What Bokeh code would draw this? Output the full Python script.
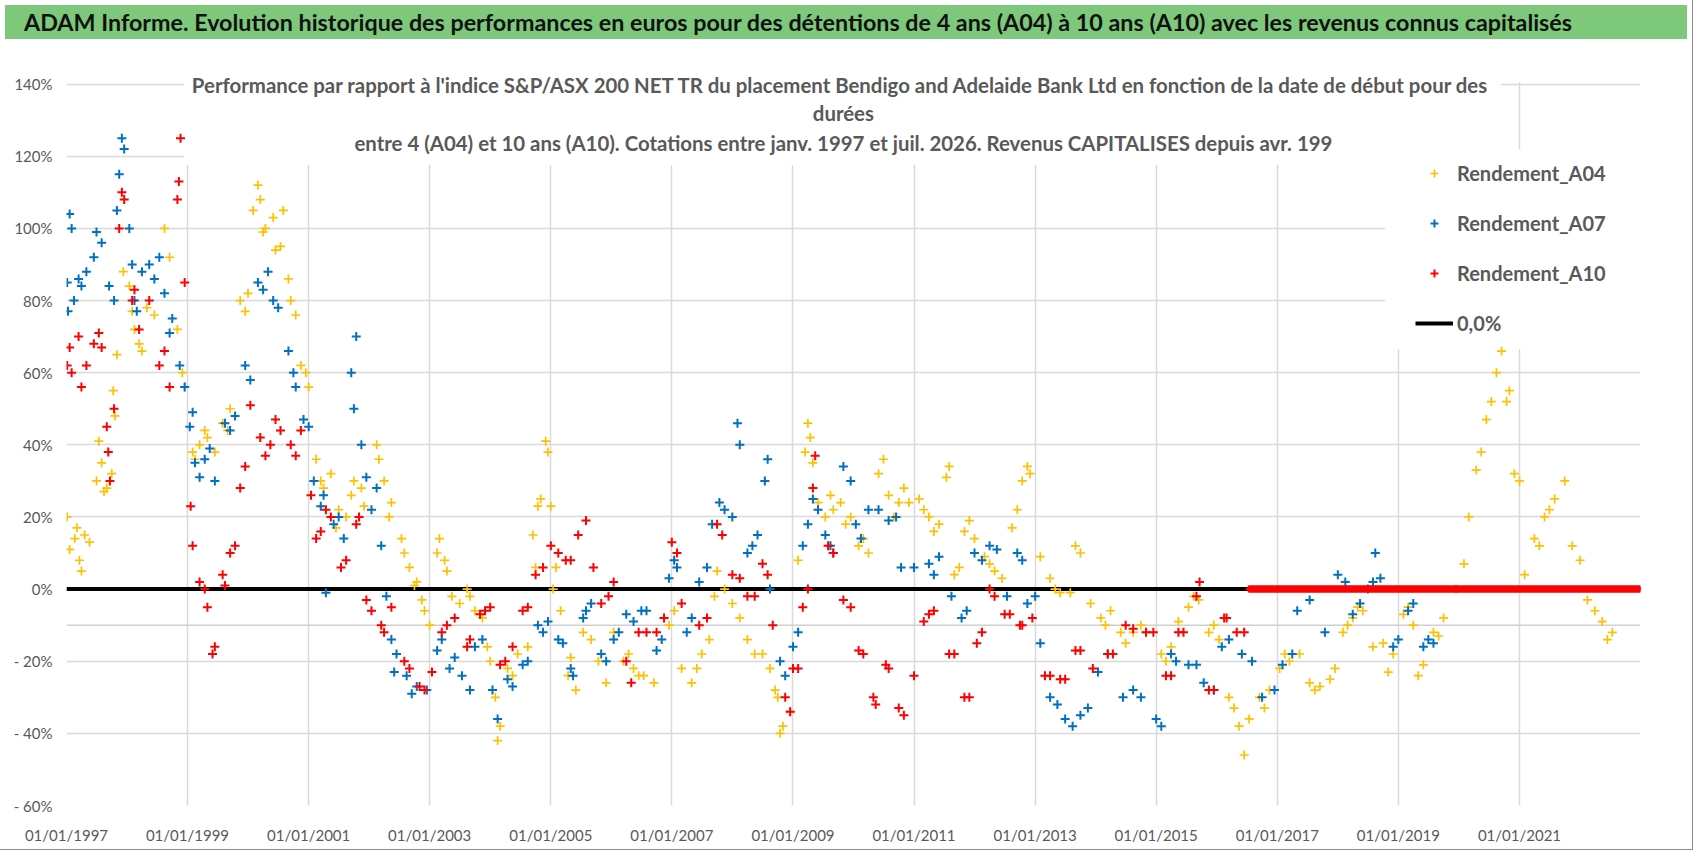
import pandas as pd
from bokeh.plotting import figure
from bokeh.models import (Range1d, FixedTicker, DatetimeTickFormatter, Label, BoxAnnotation,
                          Span, Legend, LegendItem, Div)
from bokeh.layouts import column
from bokeh.embed import file_html
from bokeh.resources import INLINE

# Performance relative to the index (%): (date, value)
a04 = [
    ("1997-01-05", 20), ("1997-01-20", 11), ("1997-02-20", 14), ("1997-03-20", 8), ("1997-04-20", 15),
    ("1997-05-20", 13), ("1997-07-01", 30), ("1997-08-01", 35), ("1997-09-01", 28), ("1997-10-01", 32),
    ("1997-10-20", 48), ("1997-11-01", 65), ("1997-12-10", 88), ("1998-01-15", 84), ("1998-02-15", 72),
    ("1998-03-15", 68), ("1998-05-01", 78), ("1998-06-15", 76), ("1998-08-15", 100), ("1998-09-15", 92),
    ("1998-11-01", 72), ("1998-12-01", 60), ("1999-02-01", 38), ("1999-03-15", 40), ("1999-05-01", 42),
    ("1999-06-15", 38), ("1999-08-01", 46), ("1999-09-15", 50), ("1999-11-15", 80), ("2000-01-01", 82),
    ("2000-02-01", 105), ("2000-03-01", 112), ("2000-04-15", 100), ("2000-06-01", 103), ("2000-07-15", 95),
    ("2000-09-01", 86), ("2000-10-15", 76), ("2000-11-15", 62), ("2001-01-01", 56), ("2001-02-15", 36),
    ("2001-04-01", 28), ("2001-05-15", 32), ("2001-07-01", 22), ("2001-08-15", 20), ("2001-10-01", 30),
    ("2001-11-15", 28), ("2002-02-15", 40), ("2002-04-01", 30), ("2002-05-15", 24), ("2002-07-15", 14),
    ("2002-09-01", 6), ("2002-10-15", 2), ("2002-12-01", -6), ("2003-01-01", -10), ("2003-02-15", 10),
    ("2003-04-01", 8), ("2003-05-15", -2), ("2003-07-01", -4), ("2003-08-15", 0), ("2003-10-01", -6),
    ("2003-11-15", -8), ("2004-01-01", -20), ("2004-02-01", -30), ("2004-03-01", -38), ("2004-04-15", -22),
    ("2004-06-15", -18), ("2004-08-15", -16), ("2004-09-15", 15), ("2004-11-01", 25), ("2004-12-15", 38),
    ("2005-01-15", 0), ("2005-03-01", -6), ("2005-04-15", -24), ("2005-06-01", -28), ("2005-07-15", -12),
    ("2005-09-01", -14), ("2005-10-15", -20), ("2005-12-01", -26), ("2006-01-15", -12), ("2006-03-15", -20),
    ("2006-05-15", -22), ("2006-07-15", -24), ("2006-09-15", -26), ("2006-11-15", -8), ("2007-01-15", -6),
    ("2007-03-01", -22), ("2007-05-01", -26), ("2007-07-01", -18), ("2007-08-15", -14), ("2007-10-01", 5),
    ("2007-11-15", 0), ("2008-01-01", -4), ("2008-02-15", -8), ("2008-04-01", -14), ("2008-05-15", -18),
    ("2008-07-01", -18), ("2008-08-15", -22), ("2008-10-01", -30), ("2008-11-01", -38), ("2008-12-15", -34),
    ("2009-02-01", 8), ("2009-03-15", 38), ("2009-04-15", 42), ("2009-06-01", 24), ("2009-07-15", 20),
    ("2009-09-01", 22), ("2009-10-15", 24), ("2009-12-15", 20), ("2010-02-01", 12), ("2010-04-01", 10),
    ("2010-06-01", 32), ("2010-08-01", 26), ("2010-10-01", 24), ("2010-12-01", 24), ("2011-02-01", 25),
    ("2011-04-01", 20), ("2011-06-01", 18), ("2011-07-15", 31), ("2011-09-01", 4), ("2011-11-01", 16),
    ("2012-01-01", 14), ("2012-03-01", 9), ("2012-05-01", 5), ("2012-06-15", 3), ("2012-08-15", 17),
    ("2012-10-15", 30), ("2012-12-01", 32), ("2013-02-01", 9), ("2013-04-01", 3), ("2013-06-01", -1),
    ("2013-08-01", -1), ("2013-10-01", 10), ("2013-12-01", -4), ("2014-02-01", -8), ("2014-04-01", -6),
    ("2014-06-01", -12), ("2014-08-15", -12), ("2014-11-01", -12), ("2015-02-01", -18), ("2015-04-01", -16),
    ("2015-05-15", -9), ("2015-07-15", -5), ("2015-09-15", -3), ("2015-11-15", -12), ("2016-01-15", -14),
    ("2016-03-15", -30), ("2016-05-15", -38), ("2016-07-15", -36), ("2016-09-15", -30), ("2016-11-15", -28),
    ("2017-01-15", -22), ("2017-03-15", -20), ("2017-05-15", -18), ("2017-07-15", -26), ("2017-09-15", -27),
    ("2017-11-15", -25), ("2018-02-01", -12), ("2018-04-01", -8), ("2018-06-01", -6), ("2018-08-01", -16),
    ("2018-10-01", -15), ("2018-12-01", -18), ("2019-02-01", -7), ("2019-04-01", -10), ("2019-06-01", -21),
    ("2019-08-01", -12), ("2019-10-01", -8), ("2019-12-15", 0), ("2020-02-01", 7), ("2020-03-01", 20),
    ("2020-04-15", 33), ("2020-06-15", 47), ("2020-08-15", 60), ("2020-10-15", 52), ("2020-12-01", 32),
    ("2021-02-01", 4), ("2021-04-01", 14), ("2021-06-01", 20), ("2021-08-01", 25), ("2021-11-15", 12),
    ("2022-02-15", -3), ("2022-05-15", -9), ("2022-07-15", -12),
]
# spread of the daily cloud (highs / lows seen inside each stretch)
a04_spread = [
    ("1997-03-05", 17), ("1997-04-01", 5), ("1997-07-15", 41), ("1997-08-15", 27), ("1997-10-10", 55),
    ("1998-02-01", 77), ("1998-04-01", 66), ("1998-12-15", 56), ("1999-02-15", 36), ("1999-04-15", 44),
    ("1999-09-01", 44), ("1999-12-15", 77), ("2000-03-15", 108), ("2000-04-01", 99), ("2000-06-15", 94),
    ("2000-08-01", 105), ("2000-09-15", 80), ("2000-12-15", 60), ("2001-03-15", 30), ("2001-06-15", 17),
    ("2001-09-15", 26), ("2001-12-01", 23), ("2002-03-01", 36), ("2002-05-01", 20), ("2002-08-01", 10),
    ("2002-10-01", 1), ("2002-11-15", -3), ("2003-03-01", 14), ("2003-04-15", 5), ("2003-09-01", -2),
    ("2003-12-15", -16), ("2004-02-15", -42), ("2004-05-15", -24), ("2004-10-01", 6), ("2004-10-15", 23),
    ("2004-12-01", 41), ("2005-01-01", 23), ("2005-02-01", 6), ("2005-05-01", -19), ("2006-04-15", -18),
    ("2006-06-15", -24), ("2006-12-15", -10), ("2007-06-01", -22), ("2007-09-15", -2), ("2008-09-15", -28),
    ("2008-10-15", -40), ("2009-04-01", 46), ("2009-05-01", 35), ("2009-08-15", 26), ("2009-11-15", 18),
    ("2010-03-01", 14), ("2010-07-01", 36), ("2010-09-01", 20), ("2010-11-01", 28), ("2011-03-01", 22),
    ("2011-05-01", 16), ("2011-08-01", 34), ("2011-10-01", 6), ("2011-12-01", 19), ("2012-04-01", 7),
    ("2012-09-15", 22), ("2012-11-15", 34), ("2013-05-01", 0), ("2013-09-01", 12), ("2014-03-01", -10),
    ("2014-07-01", -15), ("2014-10-01", -10), ("2015-03-01", -20), ("2015-08-15", -2), ("2015-12-15", -10),
    ("2016-04-15", -33), ("2016-06-15", -46), ("2016-10-15", -33), ("2017-02-15", -18), ("2017-08-15", -28),
    ("2017-12-15", -22), ("2018-03-01", -10), ("2018-05-01", -5), ("2018-11-01", -23), ("2019-03-01", -5),
    ("2019-05-01", -24), ("2019-09-01", -13), ("2020-05-15", 38), ("2020-07-15", 52), ("2020-09-15", 66),
    ("2020-11-01", 55), ("2021-01-01", 30), ("2021-05-01", 12), ("2021-07-01", 22), ("2021-10-01", 30),
    ("2022-01-01", 8), ("2022-04-01", -6), ("2022-06-15", -14),
]

a07 = [
    ("1997-01-05", 85), ("1997-01-20", 104), ("1997-02-15", 80), ("1997-03-15", 86), ("1997-05-01", 88),
    ("1997-06-15", 92), ("1997-08-01", 96), ("1997-09-15", 84), ("1997-10-15", 80), ("1997-11-15", 115),
    ("1997-12-15", 122), ("1998-01-15", 100), ("1998-02-15", 80), ("1998-04-01", 88), ("1998-05-15", 90),
    ("1998-07-15", 92), ("1998-08-15", 82), ("1998-10-01", 75), ("1998-11-15", 62), ("1999-01-15", 45),
    ("1999-02-15", 35), ("1999-04-15", 36), ("1999-06-15", 30), ("1999-08-15", 46), ("1999-10-15", 48),
    ("1999-12-15", 62), ("2000-03-01", 85), ("2000-05-01", 88), ("2000-07-01", 78), ("2000-09-01", 66),
    ("2000-10-15", 56), ("2000-12-01", 47), ("2001-02-01", 30), ("2001-04-01", 26), ("2001-06-01", 18),
    ("2001-08-01", 14), ("2001-09-15", 60), ("2001-10-15", 70), ("2001-11-15", 40), ("2002-01-15", 22),
    ("2002-03-15", 12), ("2002-04-15", -2), ("2002-06-15", -18), ("2002-08-15", -24), ("2002-10-15", -27),
    ("2002-12-15", -28), ("2003-02-15", -17), ("2003-05-01", -22), ("2003-07-15", -24), ("2003-10-01", -16),
    ("2004-01-15", -28), ("2004-02-15", -36), ("2004-04-15", -25), ("2004-07-15", -21), ("2004-10-15", -10),
    ("2004-12-15", -9), ("2005-02-15", -14), ("2005-05-01", -22), ("2005-07-15", -8), ("2005-09-01", -4),
    ("2005-11-01", -18), ("2006-01-15", -14), ("2006-04-01", -7), ("2006-07-01", -6), ("2006-10-01", -17),
    ("2006-12-15", 3), ("2007-02-01", 6), ("2007-04-01", -12), ("2007-06-15", 2), ("2007-09-01", 18),
    ("2007-11-15", 22), ("2008-01-01", 20), ("2008-02-15", 40), ("2008-04-01", 10), ("2008-06-01", 15),
    ("2008-07-15", 30), ("2008-08-15", 0), ("2008-10-15", -20), ("2009-01-01", -16), ("2009-03-01", 12),
    ("2009-05-01", 25), ("2009-07-15", 15), ("2009-09-01", 10), ("2009-11-01", 34), ("2010-01-15", 18),
    ("2010-04-01", 22), ("2010-08-01", 19), ("2010-10-15", 6), ("2011-01-01", 6), ("2011-04-01", 7),
    ("2011-06-01", 9), ("2011-08-15", -2), ("2011-10-15", -8), ("2012-01-01", 10), ("2012-04-01", 12),
    ("2012-07-15", -2), ("2012-09-15", 10), ("2012-11-15", -4), ("2013-02-01", -15), ("2013-04-01", -30),
    ("2013-07-01", -36), ("2013-10-01", -35), ("2014-01-15", -23), ("2014-03-15", -18), ("2014-06-15", -30),
    ("2014-10-01", -30), ("2015-01-01", -36), ("2015-04-01", -18), ("2015-07-15", -21), ("2015-10-15", -26),
    ("2016-02-01", -16), ("2016-06-01", -18), ("2016-10-01", -30), ("2017-02-01", -21), ("2017-05-01", -6),
    ("2017-10-15", -12), ("2018-01-01", 4), ("2018-04-01", -7), ("2018-07-01", 0), ("2018-09-15", 3),
    ("2018-12-01", -16), ("2019-03-01", -6), ("2019-06-01", -16), ("2019-08-01", -15),
]
a07_spread = [
    ("1997-01-10", 77), ("1997-02-01", 100), ("1997-04-01", 84), ("1997-07-01", 99), ("1997-12-01", 125),
    ("1997-11-01", 105), ("1998-02-01", 90), ("1998-03-01", 77), ("1998-06-15", 86), ("1998-09-15", 71),
    ("1998-12-15", 56), ("1999-02-01", 49), ("1999-03-15", 31), ("1999-05-15", 39), ("1999-09-15", 44),
    ("2000-01-15", 58), ("2000-04-01", 83), ("2000-06-01", 80), ("2000-10-01", 60), ("2001-01-01", 45),
    ("2001-03-15", 23), ("2001-04-15", -1), ("2001-07-01", 20), ("2001-10-01", 50), ("2001-12-15", 31),
    ("2002-02-15", 28), ("2002-06-01", -23), ("2002-05-15", -14), ("2002-09-15", -29), ("2003-03-15", -14),
    ("2003-06-01", -19), ("2003-09-01", -28), ("2003-11-15", -14), ("2004-05-15", -27), ("2004-08-15", -20),
    ("2004-11-15", -12), ("2005-03-15", -15), ("2005-05-15", -24), ("2005-08-01", -6), ("2005-12-01", -20),
    ("2006-02-15", -12), ("2006-05-15", -9), ("2006-08-01", -6), ("2006-11-01", -14), ("2007-01-15", 8),
    ("2007-05-01", -8), ("2007-08-01", 6), ("2007-10-15", 24), ("2008-02-01", 46), ("2008-05-01", 12),
    ("2008-08-01", 36), ("2008-11-15", -24), ("2009-02-01", -12), ("2009-04-01", 18), ("2009-06-01", 22),
    ("2009-08-15", 12), ("2009-12-15", 30), ("2010-02-15", 14), ("2010-06-01", 22), ("2010-09-15", 20),
    ("2011-05-01", 4), ("2011-11-15", -6), ("2012-02-15", 8), ("2012-05-15", 11), ("2012-10-15", 8),
    ("2013-01-01", -2), ("2013-05-15", -32), ("2013-08-15", -38), ("2013-11-15", -33), ("2014-08-15", -28),
    ("2015-02-01", -38), ("2015-05-01", -20), ("2015-09-01", -21), ("2015-12-15", -28), ("2016-03-15", -14),
    ("2016-08-01", -20), ("2016-12-15", -28), ("2017-04-01", -18), ("2017-07-15", -3), ("2018-02-15", 2),
    ("2018-05-15", -4), ("2018-08-01", 2), ("2018-08-15", 10), ("2019-01-01", -14), ("2019-04-01", -4),
    ("2019-07-01", -14),
]

a10 = [
    ("1997-01-05", 62), ("1997-02-01", 60), ("1997-03-15", 70), ("1997-05-01", 62), ("1997-06-15", 68),
    ("1997-08-01", 67), ("1997-09-01", 45), ("1997-09-20", 30), ("1997-10-15", 50), ("1997-11-15", 100),
    ("1997-12-15", 108), ("1998-02-01", 80), ("1998-03-15", 72), ("1998-05-15", 80), ("1998-07-15", 62),
    ("1998-09-15", 56), ("1998-11-01", 108), ("1998-11-20", 125), ("1998-12-15", 85), ("1999-02-01", 12),
    ("1999-03-15", 2), ("1999-05-01", -5), ("1999-06-15", -16), ("1999-08-01", 4), ("1999-09-15", 10),
    ("1999-10-15", 12), ("1999-11-15", 28), ("2000-01-15", 51), ("2000-03-15", 42), ("2000-05-15", 40),
    ("2000-07-15", 44), ("2000-09-15", 40), ("2000-11-15", 44), ("2001-01-15", 26), ("2001-03-15", 16),
    ("2001-05-15", 20), ("2001-07-15", 6), ("2001-10-15", 18), ("2001-12-15", -3), ("2002-03-15", -10),
    ("2002-05-15", -5), ("2002-08-01", -20), ("2002-11-01", -27), ("2003-01-15", -23), ("2003-03-15", -12),
    ("2003-06-01", -8), ("2003-08-15", -16), ("2003-11-01", -7), ("2004-01-01", -5), ("2004-03-01", -21),
    ("2004-05-15", -16), ("2004-07-15", -6), ("2004-10-01", 4), ("2005-01-01", 12), ("2005-04-01", 8),
    ("2005-06-15", 15), ("2005-08-01", 19), ("2005-09-15", 6), ("2005-11-01", -4), ("2006-01-15", 2),
    ("2006-04-01", -20), ("2006-06-15", -12), ("2006-10-01", -12), ("2007-01-01", 13), ("2007-03-01", -4),
    ("2007-06-15", -10), ("2007-10-01", 18), ("2008-01-01", 4), ("2008-04-01", -2), ("2008-07-01", 7),
    ("2008-09-01", -10), ("2008-11-15", -30), ("2009-01-01", -22), ("2009-03-01", -5), ("2009-05-01", 28),
    ("2009-08-01", 12), ("2009-11-01", -3), ("2010-02-01", -17), ("2010-05-01", -30), ("2010-07-15", -21),
    ("2010-10-01", -33), ("2011-01-01", -24), ("2011-04-01", -7), ("2011-08-01", -18), ("2011-11-01", -30),
    ("2012-01-15", -15), ("2012-04-01", 0), ("2012-07-01", -7), ("2012-10-01", -10), ("2012-12-15", -8),
    ("2013-03-01", -24), ("2013-06-01", -25), ("2013-09-01", -17), ("2013-12-15", -22), ("2014-03-15", -18),
    ("2014-07-01", -10), ("2014-11-01", -12), ("2015-03-01", -24), ("2015-05-15", -12), ("2015-09-01", -2),
    ("2015-11-15", -28), ("2016-02-15", -8), ("2016-05-01", -12),
]
a10_spread = [
    ("1997-01-20", 67), ("1997-04-01", 56), ("1997-07-15", 71), ("1997-09-10", 38), ("1997-12-01", 110),
    ("1998-02-15", 83), ("1998-08-15", 66), ("1998-11-10", 113), ("1999-01-20", 23), ("1999-06-01", -18),
    ("1999-04-15", 0), ("1999-08-15", 1), ("1999-12-15", 34), ("2000-04-15", 37), ("2000-06-15", 47),
    ("2000-10-15", 37), ("2001-02-15", 14), ("2001-04-15", 22), ("2001-08-15", 8), ("2001-11-01", 20),
    ("2002-01-15", -6), ("2002-04-01", -12), ("2002-09-01", -22), ("2002-12-01", -28), ("2003-04-15", -10),
    ("2003-09-01", -14), ("2003-12-01", -6), ("2004-04-01", -20), ("2004-08-15", -5), ("2004-11-15", 6),
    ("2005-02-15", 10), ("2005-05-01", 8), ("2005-12-15", -2), ("2006-05-01", -26), ("2006-08-01", -12),
    ("2006-11-15", -8), ("2007-02-01", 10), ("2007-08-01", -8), ("2007-11-01", 15), ("2008-02-15", 3),
    ("2008-05-15", -2), ("2008-08-01", 4), ("2008-12-15", -34), ("2009-02-01", -22), ("2009-04-01", 0),
    ("2009-05-15", 37), ("2009-09-01", 10), ("2009-12-15", -5), ("2010-03-01", -18), ("2010-05-15", -32),
    ("2010-08-01", -22), ("2010-11-01", -35), ("2011-03-01", -9), ("2011-05-01", -6), ("2011-09-01", -18),
    ("2011-12-01", -30), ("2012-02-15", -12), ("2012-05-01", -2), ("2012-08-01", -7), ("2012-10-15", -10),
    ("2013-04-01", -24), ("2013-07-01", -25), ("2013-10-01", -17), ("2014-04-15", -18), ("2014-08-15", -11),
    ("2014-12-15", -12), ("2015-04-01", -24), ("2015-06-15", -12), ("2015-09-20", 2), ("2015-12-15", -28),
    ("2016-03-01", -8), ("2016-06-15", -12),
]
# after mid-2016 the 10-year series sits flat on 0
a10_zero_start = "2016-07-15"
a10_zero_end = "2022-12-31"

y_ticks = [-60, -40, -20, 0, 20, 40, 60, 80, 100, 120, 140]
y_labels = ["- 60%", "- 40%", "- 20%", "0%", "20%", "40%", "60%", "80%", "100%", "120%", "140%"]
x_tick_years = [1997, 1999, 2001, 2003, 2005, 2007, 2009, 2011, 2013, 2015, 2017, 2019, 2021]

title_text = ("ADAM Informe. Evolution historique des performances en euros pour des détentions "
              "de 4 ans (A04) à 10 ans (A10) avec les revenus connus capitalisés")
subtitle_lines = [
    "Performance par rapport à l'indice S&P/ASX 200 NET TR  du placement Bendigo and Adelaide Bank Ltd en fonction de la date de début pour des",
    "durées",
    "entre 4 (A04) et 10 ans (A10). Cotations entre janv. 1997 et juil. 2026. Revenus CAPITALISES depuis avr. 199",
]

FONT = "Lato"
GREY = "#595959"


def ms(d):
    return pd.Timestamp(d).value / 1e6


def split(pairs):
    return pd.to_datetime([d for d, _ in pairs]), [v for _, v in pairs]


header = Div(
    text=f'<div style="font-family:{FONT};font-weight:bold;font-size:23.3px;color:#111;width:1663px;'
         f'padding-left:19px;text-align:left;line-height:34px;white-space:nowrap;">{title_text}</div>',
    width=1682, height=34,
    styles={"background-color": "#7ec87c"},
)

p = figure(
    width=1682, height=805,
    x_axis_type="datetime",
    x_range=Range1d(ms("1997-01-01"), ms("2023-01-01")),
    y_range=Range1d(-60, 146),
    output_backend="svg", toolbar_location=None,
    min_border_left=66, min_border_right=42, min_border_top=18, min_border_bottom=44,
)
p.outline_line_color = None
p.background_fill_color = "white"
p.border_fill_color = "white"

x_ticks = [ms(f"{y}-01-01") for y in x_tick_years]
p.xaxis.ticker = FixedTicker(ticks=x_ticks)
p.xaxis.formatter = DatetimeTickFormatter(years="%d/%m/%Y", months="%d/%m/%Y", days="%d/%m/%Y")
p.yaxis.ticker = FixedTicker(ticks=y_ticks)
p.yaxis.major_label_overrides = dict(zip(y_ticks, y_labels))
for ax in (p.xaxis, p.yaxis):
    ax.axis_line_color = None
    ax.major_tick_line_color = None
    ax.minor_tick_line_color = None
    ax.major_tick_out = 0
    ax.major_label_text_font = FONT
    ax.major_label_text_font_size = "15px"
    ax.major_label_text_color = GREY
p.xaxis.major_label_standoff = 20
p.yaxis.major_label_standoff = 14

p.xgrid.ticker = FixedTicker(ticks=x_ticks)
p.ygrid.ticker = FixedTicker(ticks=y_ticks)
for g in (p.xgrid, p.ygrid):
    g.grid_line_color = "#d9d9d9"
    g.grid_line_width = 1.5
    g.level = "image"

p.add_layout(Span(location=-10, dimension="width", line_color="#d0d0d0", line_width=1.5, level="image"))

# white blocks: above the 140% line, behind the chart title and behind the legend
for left, right, bottom, top in [("1997-01-01", "2023-01-01", 140.5, 150),
                                 ("1998-12-10", "2020-09-10", 117.6, 150),
                                 ("2018-10-15", "2023-01-01", 66.6, 122)]:
    p.add_layout(BoxAnnotation(left=ms(left), right=ms(right), bottom=bottom, top=top,
                               fill_color="white", fill_alpha=1, line_color=None, level="underlay"))

zero = p.line([ms("1997-01-01"), ms("2023-01-01")], [0, 0], line_color="black", line_width=4)

x4, y4 = split(a04 + a04_spread)
x7, y7 = split(a07 + a07_spread)
x10, y10 = split(a10 + a10_spread)
r4 = p.scatter(x4, y4, marker="cross", size=9, line_color="#FFC000", line_width=1.7)
r7 = p.scatter(x7, y7, marker="cross", size=9, line_color="#0070C0", line_width=2)
r10 = p.scatter(x10, y10, marker="cross", size=9, line_color="#FF0000", line_width=2)
z_dates = pd.date_range(a10_zero_start, a10_zero_end, freq="7D")
p.scatter(z_dates, [0] * len(z_dates), marker="cross", size=7, line_color="#FF0000", line_width=2.5)

y_sub = [139.8, 132.0, 123.7]
for txt, yy in zip(subtitle_lines, y_sub):
    p.add_layout(Label(x=ms("2009-11-01"), y=yy, text=txt, text_align="center", text_baseline="middle",
                       text_font=FONT, text_font_size="20.4px", text_font_style="bold", text_color=GREY))

legend = Legend(
    items=[LegendItem(label="Rendement_A04", renderers=[r4]),
           LegendItem(label="Rendement_A07", renderers=[r7]),
           LegendItem(label="Rendement_A10", renderers=[r10]),
           LegendItem(label="0,0%", renderers=[zero])],
    location=(1349, 470),
    label_text_font=FONT, label_text_font_size="20px", label_text_font_style="bold",
    label_text_color=GREY, glyph_width=38, glyph_height=20, label_height=20,
    label_standoff=4, spacing=26, padding=10, margin=0,
    background_fill_color="white", background_fill_alpha=1, border_line_color=None,
)
p.add_layout(legend)

layout = column(header, p, spacing=0, styles={"outline": "1px solid #8c8c8c"})
open("out.html", "w").write(file_html(layout, INLINE))
